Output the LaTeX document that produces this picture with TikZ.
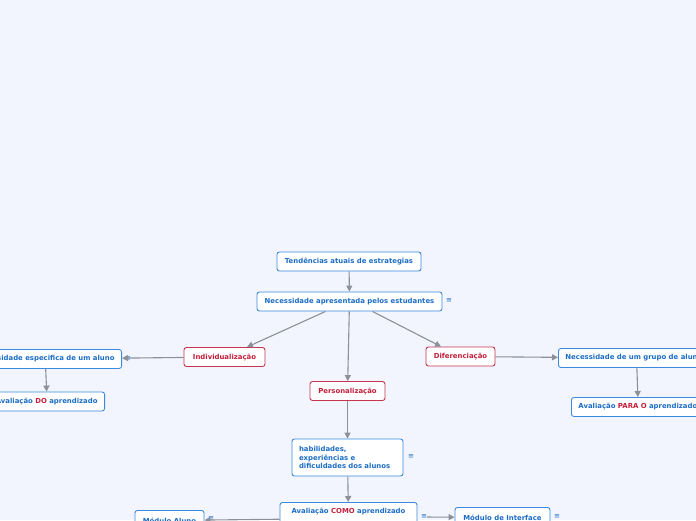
\documentclass[tikz,border=0pt]{standalone}
\usepackage{fontspec}
\setmainfont{DejaVu Sans}
\usetikzlibrary{arrows.meta}

\definecolor{bgcol}{HTML}{F2F5FD}
\definecolor{topicblue}{HTML}{3C8AE0}
\definecolor{textblue}{HTML}{1C6DC6}
\definecolor{topicred}{HTML}{C8344E}
\definecolor{textred}{HTML}{C41E3A}
\definecolor{linkgray}{HTML}{8C9099}

\tikzset{
    topic/.style={draw=topicblue, fill=white, rounded corners=2.5pt, line width=0.9pt,
        text=textblue, font=\bfseries\fontsize{6.9}{8.7}\selectfont,
        minimum height=19pt, inner xsep=7pt},
    keytopic/.style={topic, draw=topicred, text=textred},
    link/.style={draw=linkgray, line width=1.1pt, -{Triangle[length=6pt,width=6pt]}},
    more/.style={text=textblue, font=\fontsize{7}{8}\selectfont, inner sep=0pt}
}
\newcommand{\hl}[1]{\textcolor{textred}{#1}}

\begin{document}
\begin{tikzpicture}[x=1pt,y=-1pt]
    \fill[bgcol] (0,0) rectangle (696,520);
    \useasboundingbox (0,0) rectangle (696,520);
    \clip (0,0) rectangle (696,520);

    \node[topic, minimum width=144pt] (tend) at (349,261.5) {Tendências atuais de estrategias};
    \node[topic, minimum width=185pt] (nec) at (349.5,301.5) {Necessidade apresentada pelos estudantes};
    \node[keytopic, minimum width=81pt] (ind) at (224.5,357) {Individualização};
    \node[keytopic, minimum width=75pt] (pers) at (347.5,391) {Personalização};
    \node[keytopic, minimum width=69pt] (dif) at (460.5,356.5) {Diferenciação};

    \node[topic, anchor=east] (aluno) at (122,359) {Necessidade especifica de um aluno};
    \node[topic, anchor=east] (ado) at (105,401.5) {Avaliação \hl{DO} aprendizado};
    \node[topic, anchor=west] (grupo) at (558,358) {Necessidade de um grupo de alunos};
    \node[topic, anchor=west] (apo) at (571,407) {Avaliação \hl{PARA O} aprendizado};

    \node[topic, text width=97pt, align=left, minimum height=37pt] (hab) at (347.5,457.5)
        {habilidades,\\experiências e\\dificuldades dos alunos};
    \node[topic, anchor=north, minimum width=137pt, inner ysep=6pt,
        text height=5pt, text depth=15pt] (como) at (348.5,502) {Avaliação \hl{COMO} aprendizado};
    \node[topic, anchor=north, minimum width=69pt, minimum height=20pt] (malu) at (169.5,510) {Módulo Aluno};
    \node[topic, anchor=north, minimum width=95pt, minimum height=20pt] (mint) at (502.5,507) {Módulo de Interface};

    % indicadores
    \node[more] (i1) at (449,301) {≡};
    \node[more] (i2) at (128,358.5) {≡};
    \node[more] (i3) at (411,457) {≡};
    \node[more] (i4) at (424,517) {≡};
    \node[more] (i5) at (557,517) {≡};
    \node[more] (i6) at (211,519) {≡};

    % ligacoes
    \draw[link] (tend) -- (nec);
    \draw[link] ([xshift=-24pt]nec.south) -- ([xshift=22.5pt]ind.north);
    \draw[link] (nec) -- (pers);
    \draw[link] ([xshift=23pt]nec.south) -- ([xshift=-19.5pt]dif.north);
    \draw[link] (ind) -- (aluno);
    \draw[link] ([xshift=-1pt]ado.north |- aluno.south) -- (ado.north);
    \draw[link] (dif) -- (grupo);
    \draw[link] ([xshift=-1pt]apo.north |- grupo.south) -- (apo.north);
    \draw[link] (pers) -- (hab);
    \draw[link] (hab) -- (como);
    \draw[link] (como) -- (malu);
    \draw[link] (i4) -- (mint);
\end{tikzpicture}
\end{document}
